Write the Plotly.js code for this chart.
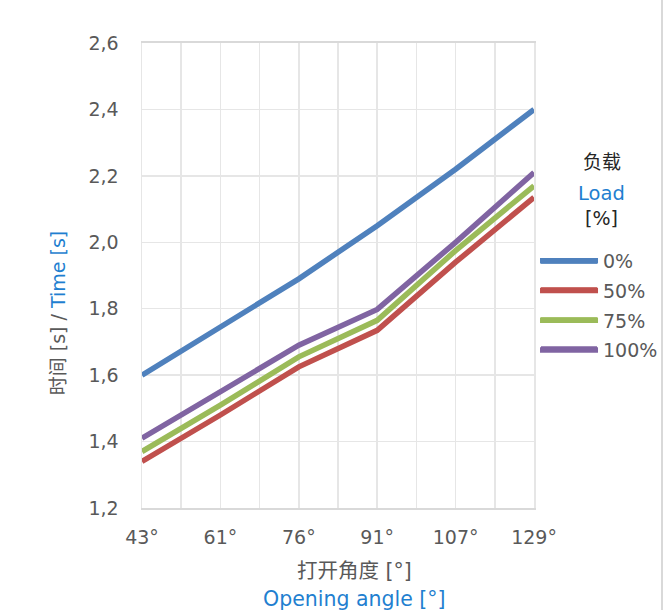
<!DOCTYPE html>
<html>
<head>
<meta charset="utf-8">
<script src="https://cdn.plot.ly/plotly-3.0.1.min.js"></script>
<style>html,body{margin:0;padding:0;background:#fff;}#chart{width:668px;height:610px;}</style>
</head>
<body>
<div id="chart"></div>
<script>
const categories = ['43°', '61°', '76°', '91°', '107°', '129°'];
const seriesNames = ['0%', '50%', '75%', '100%'];
const load0 = [1.60, 1.745, 1.89, 2.05, 2.22, 2.40];
const load50 = [1.34, 1.48, 1.625, 1.735, 1.94, 2.135];
const load75 = [1.37, 1.51, 1.655, 1.765, 1.975, 2.17];
const load100 = [1.41, 1.548, 1.69, 1.798, 2.0, 2.21];
const colors = ['#4f81bd', '#c0504d', '#9bbb59', '#8064a2'];

const FONT = 'DejaVu Sans, Noto Sans CJK SC, sans-serif';
const BLUE_TXT = '#1f7fd0';
const idx = categories.map((_, i) => i);
const allSeries = [load0, load50, load75, load100];

const traces = allSeries.map((vals, k) => ({
  x: idx,
  y: vals,
  name: seriesNames[k],
  legendgroup: 'g' + k,
  type: 'scatter',
  mode: 'lines',
  line: {color: colors[k], width: 5.5},
  hoverinfo: 'skip'
}));

// legend swatch extensions (Plotly draws 30px legend lines; reference uses longer ones)
const legendRowY = [0.5312, 0.4688, 0.4043, 0.3419];
const swatchShapes = colors.map((c, k) => ({
  type: 'line', xref: 'paper', yref: 'paper',
  x0: 1.0179, x1: 1.1607, y0: legendRowY[k], y1: legendRowY[k],
  line: {color: c, width: 5.5}
}));

const layout = {
  width: 668,
  height: 610,
  margin: {l: 142, r: 134, t: 43, b: 102, autoexpand: false},
  paper_bgcolor: '#ffffff',
  plot_bgcolor: '#ffffff',
  separators: ',.',
  font: {family: FONT, size: 19, color: '#595959'},
  showlegend: true,
  xaxis: {
    range: [0, categories.length - 1],
    tickmode: 'array',
    tickvals: idx,
    ticktext: categories,
    showgrid: true,
    gridcolor: '#e6e6e6',
    gridwidth: 1.5,
    minor: {dtick: 0.5, showgrid: true, gridcolor: '#e6e6e6', gridwidth: 1.5, ticks: ''},
    zeroline: false,
    showline: true,
    mirror: true,
    linecolor: '#d9d9d9',
    linewidth: 2,
    ticks: '',
    ticklabelstandoff: 11,
    tickfont: {size: 19, color: '#595959'},
    fixedrange: true,
    automargin: false
  },
  yaxis: {
    range: [1.2, 2.6],
    dtick: 0.2,
    tick0: 1.2,
    tickformat: '.1f',
    showgrid: true,
    gridcolor: '#e6e6e6',
    gridwidth: 1.5,
    zeroline: false,
    showline: true,
    mirror: true,
    linecolor: '#e6e6e6',
    linewidth: 1.5,
    ticks: '',
    ticklabelstandoff: 18,
    tickfont: {size: 19, color: '#595959'},
    fixedrange: true,
    automargin: false
  },
  legend: {
    x: 1.0026,
    xanchor: 'left',
    y: 0.572,
    yanchor: 'top',
    bgcolor: 'rgba(0,0,0,0)',
    font: {size: 19, color: '#595959'},
    tracegroupgap: 2,
    itemwidth: 58
  },
  annotations: [
    {xref: 'paper', yref: 'paper', x: 0.541, y: -0.1355, xanchor: 'center', yanchor: 'middle',
     showarrow: false, text: '打开角度 [°]', font: {size: 20.5, color: '#595959'}},
    {xref: 'paper', yref: 'paper', x: 0.541, y: -0.1957, xanchor: 'center', yanchor: 'middle',
     showarrow: false, text: 'Opening angle [°]', font: {size: 20.5, color: BLUE_TXT}},
    {xref: 'paper', yref: 'paper', x: -0.214, y: 0.419, xanchor: 'center', yanchor: 'middle',
     textangle: -90, showarrow: false,
     text: '时间 [s] / <span style="color:' + BLUE_TXT + '">Time [s]</span>',
     font: {size: 19, color: '#595959'}},
    {xref: 'paper', yref: 'paper', x: 1.173, y: 0.745, xanchor: 'center', yanchor: 'middle',
     showarrow: false, text: '负载', font: {size: 19, color: '#262626'}},
    {xref: 'paper', yref: 'paper', x: 1.173, y: 0.677, xanchor: 'center', yanchor: 'middle',
     showarrow: false, text: 'Load', font: {size: 19.5, color: BLUE_TXT}},
    {xref: 'paper', yref: 'paper', x: 1.173, y: 0.624, xanchor: 'center', yanchor: 'middle',
     showarrow: false, text: '[%]', font: {size: 19, color: '#262626'}}
  ],
  shapes: [{
    type: 'line', xref: 'paper', yref: 'paper',
    x0: 1.3265, x1: 1.3265, y0: -0.25, y1: 1.1,
    line: {color: '#d9d9d9', width: 2}
  }].concat(swatchShapes)
};

Plotly.newPlot('chart', traces, layout, {displayModeBar: false, staticPlot: true});
</script>
</body>
</html>
